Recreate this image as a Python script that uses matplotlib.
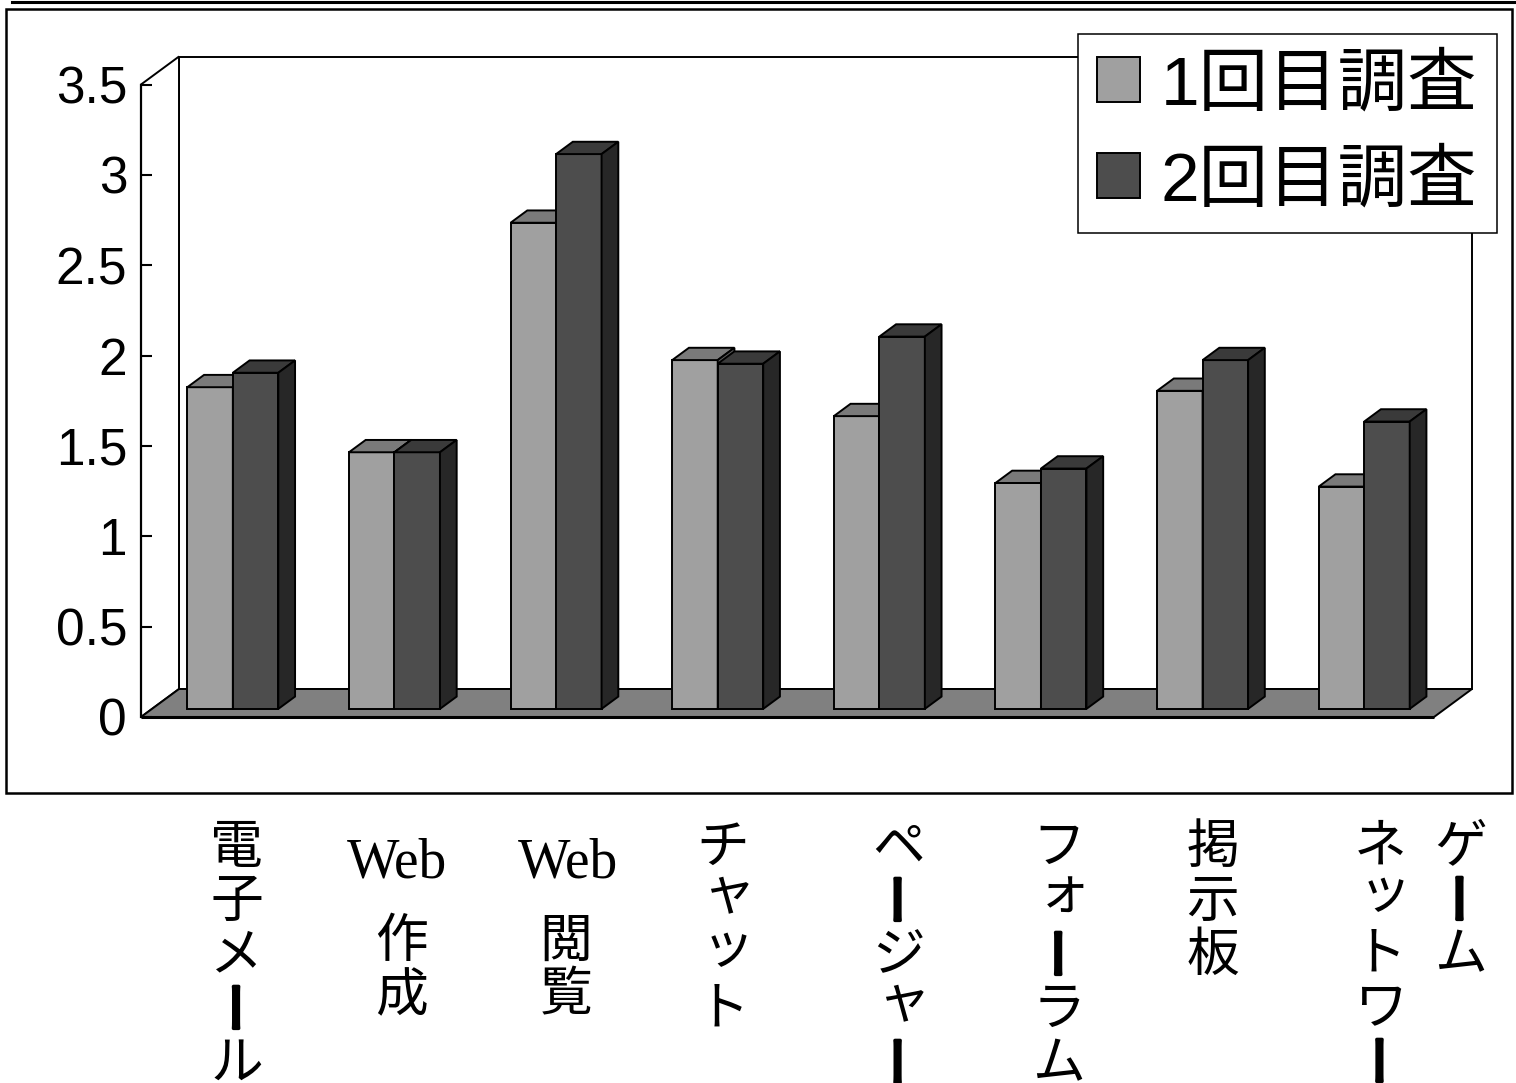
import matplotlib
matplotlib.use('Agg')
import matplotlib.pyplot as plt
from matplotlib.patches import Polygon, Rectangle
from matplotlib.lines import Line2D
from matplotlib.font_manager import FontProperties
import matplotlib.patheffects as pe

# ---------------- data ----------------
categories = ['電子メール', 'Web作成', 'Web閲覧', 'チャット', 'ページャー',
              'フォーラム', '掲示板', 'ネットワークゲーム']
series_names = ['1回目調査', '2回目調査']
survey1 = [1.78, 1.42, 2.69, 1.93, 1.62, 1.25, 1.76, 1.23]
survey2 = [1.86, 1.42, 3.07, 1.91, 2.06, 1.33, 1.93, 1.59]
yticks = [0, 0.5, 1, 1.5, 2, 2.5, 3, 3.5]
ytick_labels = ['0', '0.5', '1', '1.5', '2', '2.5', '3', '3.5']

# ---------------- style ----------------
front_cols = ['#A0A0A0', '#4D4D4D']
top_cols = ['#7A7A7A', '#3A3A3A']
side_cols = ['#606060', '#272727']
floor_col = '#808080'
CJK = ['Noto Sans CJK JP', 'DejaVu Sans']
SANS = ['Liberation Sans Narrow', 'Liberation Sans', 'DejaVu Sans']
LEG = ['Liberation Sans', 'Noto Sans CJK JP', 'DejaVu Sans']

W, H = 1516, 1083
fig = plt.figure(figsize=(W / 100, H / 100), dpi=100)
fig.patch.set_facecolor('white')

AX_L, AX_R, AX_T, AX_B = 141, 1434, 84.5, 717
YMAX = 3.5
n = len(categories)
ax = fig.add_axes([AX_L / W, 1 - AX_B / H, (AX_R - AX_L) / W, (AX_B - AX_T) / H])
ax.set_xlim(0, n)
ax.set_ylim(0, YMAX)
ax.patch.set_visible(False)
for s in ['top', 'right', 'bottom']:
    ax.spines[s].set_visible(False)
ax.spines['left'].set_linewidth(1.6)

PX_X = (AX_R - AX_L) / n
PX_Y = (AX_B - AX_T) / YMAX
DX = 38 / PX_X           # full depth, data units
DY = 28 / PX_Y
Z0 = 0.29                # depth of bar front
ZB = 0.44                # bar depth
BAR_W = 45.5 / PX_X

LW = 1.4
# back wall
ax.add_patch(Rectangle((DX, DY), n, YMAX, facecolor='white', edgecolor='black',
                       lw=LW, zorder=0.5, clip_on=False))
# left wall
ax.add_patch(Polygon([(0, 0), (0, YMAX), (DX, YMAX + DY), (DX, DY)], closed=True,
                     facecolor='white', edgecolor='black', lw=LW, zorder=0.6, clip_on=False))
# floor
ax.add_patch(Polygon([(0, 0), (DX, DY), (n + DX, DY), (n, 0)], closed=True,
                     facecolor=floor_col, edgecolor='black', lw=LW, zorder=1, clip_on=False))
ax.plot([0, n], [0, 0], color='black', lw=2.2, zorder=1.1, clip_on=False,
        solid_capstyle='butt')

# bars
series = [survey1, survey2]
containers = []
for j, vals in enumerate(series):
    xs = [i + 0.5 + Z0 * DX - BAR_W + j * BAR_W for i in range(n)]
    y0 = Z0 * DY
    bc = ax.bar(xs, vals, width=BAR_W, bottom=y0, align='edge',
                color=front_cols[j], edgecolor='black', lw=LW, zorder=2 + j,
                label=series_names[j], clip_on=False)
    containers.append(bc)
    for x0, h in zip(xs, vals):
        top = y0 + h
        ax.add_patch(Polygon([(x0, top), (x0 + BAR_W, top),
                              (x0 + BAR_W + ZB * DX, top + ZB * DY),
                              (x0 + ZB * DX, top + ZB * DY)], closed=True,
                             facecolor=top_cols[j], edgecolor='black', lw=LW,
                             zorder=2 + j, clip_on=False, joinstyle='miter'))
        ax.add_patch(Polygon([(x0 + BAR_W, y0), (x0 + BAR_W + ZB * DX, y0 + ZB * DY),
                              (x0 + BAR_W + ZB * DX, top + ZB * DY),
                              (x0 + BAR_W, top)], closed=True,
                             facecolor=side_cols[j], edgecolor='black', lw=LW,
                             zorder=2 + j, clip_on=False, joinstyle='miter'))

# axis ticks
ax.set_xticks([])
ax.set_yticks(yticks)
ax.set_yticklabels(ytick_labels, fontsize=37, family=SANS)
ax.tick_params(axis='y', direction='in', length=8, width=1.5, pad=10)

# legend
leg = ax.legend(handles=containers, labels=series_names,
                prop=FontProperties(family=LEG, size=50),
                loc='upper right', bbox_to_anchor=(1497 / W, 1 - 34 / H),
                bbox_transform=fig.transFigure, borderaxespad=0,
                frameon=True, fancybox=False, framealpha=1, edgecolor='black',
                handlelength=0.62, handleheight=0.62, handletextpad=0.3,
                labelspacing=0.45, borderpad=0.28)
leg.get_frame().set_linewidth(1.1)
leg.set_zorder(10)

# category labels (vertical Japanese writing)
SMALL = set('ャッォュョァィゥェ')
CSIZE = 38
EM = CSIZE * 100 / 72
PITCH = 54
bar_fx = [pe.withStroke(linewidth=2.5, foreground='black')]


def vtext(xpx, top_px, s):
    for k, ch in enumerate(s):
        t = top_px + k * PITCH
        if ch == 'ー':
            fig.text((xpx + 4) / W, 1 - (t + 0.5 * EM) / H, ch, rotation=90, ha='center',
                     va='center', fontsize=CSIZE, family=CJK, path_effects=bar_fx)
        else:
            dx, dy = 0.0, 0.0
            if ch in SMALL:
                dx, dy = 0.1 * EM, -0.15 * EM
            fig.text((xpx + dx) / W, 1 - (t + 0.83 * EM + dy) / H, ch, ha='center',
                     va='baseline', fontsize=CSIZE, family=CJK)


label_nudge_px = [4, 5, 8, 5, 19, 18, 10, 16]
web_nudge_px = [0, -2, 4, 0, 0, 0, 0, 0]
for i, cat in enumerate(categories):
    xc = AX_L + (i + 0.5 + Z0 * DX) * PX_X + label_nudge_px[i]
    if cat.startswith('Web'):
        fig.text((xc + web_nudge_px[i]) / W, 1 - 877 / H, 'Web', ha='center', va='baseline',
                 fontsize=40, family=['Liberation Serif', 'DejaVu Serif'])
        vtext(xc + 2, 913, cat[3:])
    elif cat == 'ネットワークゲーム':
        vtext(xc, 818, 'ネットワーク')
        vtext(xc + 80, 818, 'ゲーム')
    else:
        vtext(xc, 819, cat)

# outer frames
fig.add_artist(Rectangle((6 / W, 1 - 792.7 / H), (1511.7 - 6) / W, (792.7 - 8.7) / H,
                         transform=fig.transFigure, fill=False, edgecolor='black', lw=1.8))
fig.add_artist(Line2D([12 / W, 1], [1 - 1.5 / H, 1 - 1.5 / H], transform=fig.transFigure,
                      color='black', lw=2.2))

fig.savefig('out.png', dpi=100, facecolor='white')
